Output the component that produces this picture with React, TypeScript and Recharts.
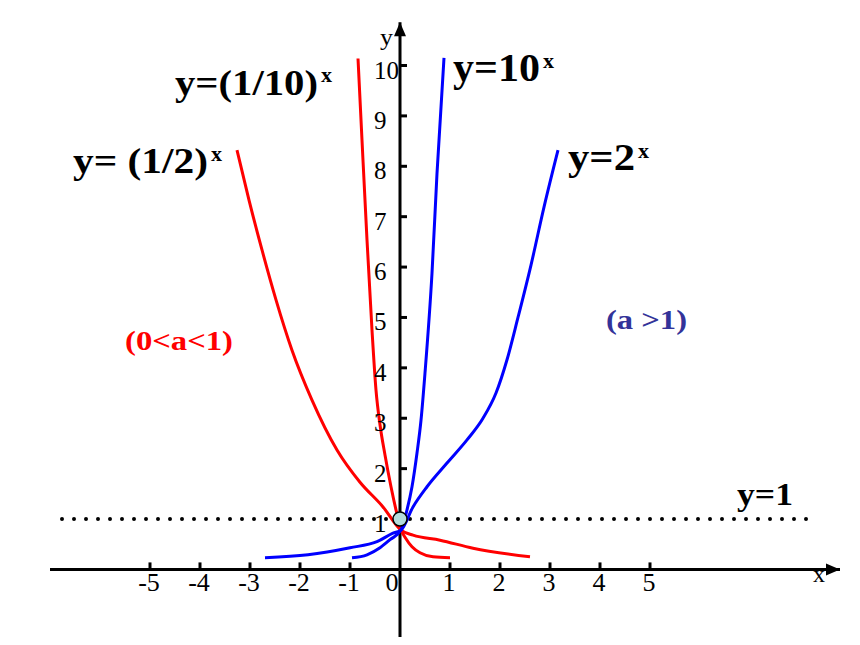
import React from "react";
import {
  ComposedChart,
  Line,
  Scatter,
  XAxis,
  YAxis,
  ReferenceLine,
  ReferenceDot,
} from "recharts";

// curves, [x, y]
const halfCurve = [
  [-3.26, 8.32], [-3.02, 7.33], [-2.76, 6.34], [-2.48, 5.35], [-2.16, 4.35],
  [-1.76, 3.36], [-1.26, 2.37], [-0.8, 1.73], [-0.34, 1.24], [0.02, 0.78],
  [0.26, 0.68], [0.8, 0.58], [1.46, 0.42], [2.6, 0.25],
];
const tenthCurve = [
  [-0.84, 10.14], [-0.76, 8.52], [-0.66, 6.54], [-0.56, 4.75], [-0.48, 3.56],
  [-0.4, 2.87], [-0.3, 2.27], [-0.18, 1.64], [-0.08, 1.18], [0.02, 0.78],
  [0.1, 0.64], [0.24, 0.45], [0.4, 0.33], [0.66, 0.25], [1.0, 0.23],
];
const tenCurve = [
  [-0.96, 0.23], [-0.66, 0.29], [-0.4, 0.43], [-0.2, 0.59], [0.02, 0.78],
  [0.14, 1.18], [0.24, 1.64], [0.34, 2.31], [0.42, 2.96], [0.5, 3.9],
  [0.64, 5.88], [0.74, 7.86], [0.88, 10.15],
];
const twoCurve = [
  [-2.7, 0.23], [-1.84, 0.29], [-1.0, 0.43], [-0.46, 0.55], [-0.14, 0.72],
  [0.02, 0.78], [0.26, 1.24], [0.54, 1.64], [0.94, 2.11], [1.34, 2.57],
  [1.66, 3.0], [1.92, 3.5], [2.14, 4.16], [2.36, 5.0], [2.62, 6.04],
  [2.88, 7.19], [3.16, 8.32],
];

const xTickValues = [-5, -4, -3, -2, -1, 1, 2, 3, 4, 5];
const xTickLabels = ["-5", "-4", "-3", "-2", "-1", "1", "2", "3", "4", "5"];
const yTickValues = [1, 2, 3, 4, 5, 6, 7, 8, 9, 10];
const yTickLabels = ["1", "2", "3", "4", "5", "6", "7", "8", "9", "10"];

const toPoints = (arr: number[][]) => arr.map(([x, y]) => ({ x, y }));

const FONT = "Liberation Serif, Times New Roman, Times, serif";
const fontStyle = { fontFamily: FONT };

const xTicks = xTickValues.map((v, i) => ({ x: v, y: 0, label: xTickLabels[i] }));
const yTicks = yTickValues.map((v, i) => ({ x: 0, y: v, label: yTickLabels[i] }));

const XTick = (props: any) => {
  const { cx, cy, payload } = props;
  return (
    <g>
      <line x1={cx} y1={cy - 7} x2={cx} y2={cy} stroke="#000" strokeWidth={3} />
      <text x={cx - 1} y={cy + 22} textAnchor="middle" style={fontStyle} fontSize={26} fill="#000">
        {payload.label}
      </text>
    </g>
  );
};

const YTick = (props: any) => {
  const { cx, cy, payload } = props;
  return (
    <g>
      <line x1={cx} y1={cy} x2={cx + 7} y2={cy} stroke="#000" strokeWidth={3} />
      <text x={cx - 26} y={cy + 13} textAnchor="start" style={fontStyle} fontSize={25} fill="#000">
        {payload.label}
      </text>
    </g>
  );
};

const ArrowLine = (dir: "right" | "up") => (props: any) => {
  const { x1, y1, x2, y2 } = props;
  const tipX = dir === "right" ? Math.max(x1, x2) : x1;
  const tipY = dir === "up" ? Math.min(y1, y2) : y1;
  const head =
    dir === "right"
      ? `${tipX},${tipY} ${tipX - 14},${tipY - 6} ${tipX - 14},${tipY + 6}`
      : `${tipX},${tipY} ${tipX - 6},${tipY + 14} ${tipX + 6},${tipY + 14}`;
  return (
    <g>
      <line x1={x1} y1={y1} x2={x2} y2={y2} stroke="#000" strokeWidth={3} />
      <polygon points={head} fill="#000" />
    </g>
  );
};

type Ann = {
  x: number;
  y: number;
  main: string;
  sup?: string;
  size: number;
  width: number;
  color: string;
  bold?: boolean;
  supDy?: number;
};

const annotations: Ann[] = [
  { x: -4.5, y: 9.415, main: "y=(1/10)", sup: "x", size: 36, width: 143, color: "#000", bold: true, supDy: -13 },
  { x: -6.54, y: 7.865, main: "y= (1/2)", sup: "x", size: 36, width: 135, color: "#000", bold: true, supDy: -12 },
  { x: 1.06, y: 9.69, main: "y=10", sup: "x", size: 40, width: 87, color: "#000", bold: true, supDy: -13 },
  { x: 3.36, y: 7.93, main: "y=2", sup: "x", size: 38, width: 67, color: "#000", bold: true, supDy: -12 },
  { x: -5.5, y: 4.35, main: "(0<a<1)", size: 28, width: 108, color: "#ff0000", bold: true },
  { x: 4.12, y: 4.77, main: "(a >1)", size: 28, width: 81, color: "#333399", bold: true },
  { x: 6.74, y: 1.278, main: "y=1", size: 32, width: 56, color: "#000", bold: true },
  { x: 8.26, y: -0.25, main: "x", size: 24, width: 12, color: "#000" },
  { x: -0.4, y: 10.41, main: "y", size: 24, width: 13, color: "#000" },
];

const AnnText = (a: Ann) => (props: any) => {
  const { cx, cy } = props;
  return (
    <text x={cx} y={cy} style={fontStyle} fill={a.color} fontWeight={a.bold ? "bold" : "normal"}>
      <tspan fontSize={a.size} textLength={a.width} lengthAdjust="spacingAndGlyphs">
        {a.main}
      </tspan>
      {a.sup ? (
        <tspan fontSize={22} dx={3} dy={a.supDy}>
          {a.sup}
        </tspan>
      ) : null}
    </text>
  );
};

const lineProps = {
  dataKey: "y",
  type: "monotone" as const,
  strokeWidth: 3,
  dot: false,
  activeDot: false,
  isAnimationActive: false,
};

const App: React.FC = () => {
  return (
    <div style={{ position: "absolute", left: 0, top: 0, width: 860, height: 645, background: "#fff" }}>
      <ComposedChart width={860} height={645} margin={{ top: 0, right: 0, bottom: 0, left: 0 }}>
        <XAxis dataKey="x" type="number" domain={[-8, 9.2]} hide allowDataOverflow />
        <YAxis type="number" domain={[-1.5, 11.3]} hide allowDataOverflow />

        <ReferenceLine
          segment={[{ x: -7, y: 0 }, { x: 8.8, y: 0 }]}
          shape={ArrowLine("right")}
        />
        <ReferenceLine
          segment={[{ x: 0, y: -1.34 }, { x: 0, y: 10.86 }]}
          shape={ArrowLine("up")}
        />
        <ReferenceLine
          segment={[{ x: -6.76, y: 1 }, { x: 8.16, y: 1 }]}
          stroke="#000"
          strokeWidth={4}
          strokeDasharray="0 12"
          strokeLinecap="round"
        />

        <Scatter data={xTicks} dataKey="y" shape={XTick} isAnimationActive={false} />
        <Scatter data={yTicks} dataKey="y" shape={YTick} isAnimationActive={false} />

        <Line data={toPoints(halfCurve)} stroke="#ff0000" {...lineProps} />
        <Line data={toPoints(tenthCurve)} stroke="#ff0000" {...lineProps} />
        <Line data={toPoints(tenCurve)} stroke="#0000ff" {...lineProps} />
        <Line data={toPoints(twoCurve)} stroke="#0000ff" {...lineProps} />

        <ReferenceDot x={0} y={1} r={7} fill="#b3dcdc" stroke="#000" strokeWidth={1.5} />

        {annotations.map((a, i) => (
          <ReferenceDot key={i} x={a.x} y={a.y} r={0} shape={AnnText(a)} />
        ))}
        <ReferenceDot x={0} y={0} r={0} shape={(p: any) => (
          <text x={p.cx - 8} y={p.cy + 22} textAnchor="middle" style={fontStyle} fontSize={26} fill="#000">0</text>
        )} />
      </ComposedChart>
    </div>
  );
};

export default App;
